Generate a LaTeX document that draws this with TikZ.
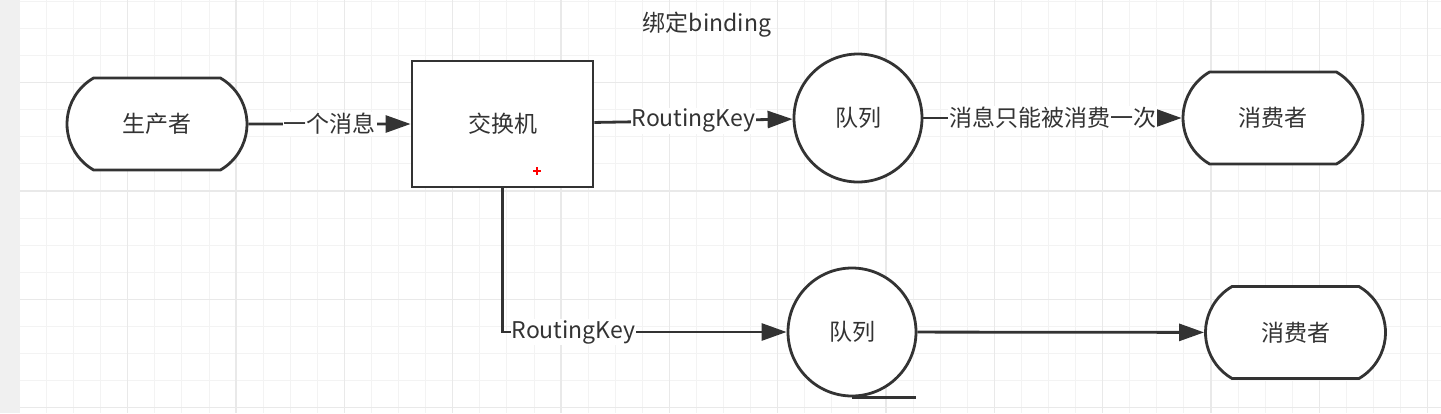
\documentclass[tikz,border=0pt]{standalone}
\usepackage{fontspec}
\setmainfont{Noto Sans CJK SC}
\usetikzlibrary{arrows.meta,shapes.misc}
\definecolor{ink}{HTML}{333333}
\definecolor{gridminor}{HTML}{F3F3F3}
\definecolor{gridmajor}{HTML}{E9E9E9}
\definecolor{sidebar}{HTML}{F0F0F0}

\begin{document}
\begin{tikzpicture}[x=1pt,y=-1pt,color=ink,line width=2.8pt,
  >={Triangle[length=25pt,width=17pt]}]
\tikzstyle{every node}=[font=\fontsize{23}{28}\selectfont, inner sep=1pt]
\tikzstyle{term}=[draw, fill=white, rounded rectangle, rounded rectangle arc length=120,
  minimum width=182pt, minimum height=92pt]
\tikzstyle{queue}=[draw, fill=white, circle, minimum size=128pt]
\tikzstyle{box}=[draw, fill=white, rectangle, minimum width=181pt, minimum height=126pt]
\tikzstyle{lbl}=[fill=white, inner sep=1pt]
\useasboundingbox (0,0) rectangle (1441,413);
% background grid
\fill[white] (0,0) rectangle (1441,413);
\foreach \i in {0,...,52}
  \draw[gridminor, line width=1pt] ({19.5+27.08*\i},0) -- ({19.5+27.08*\i},413);
\foreach \j in {0,...,15}
  \draw[gridminor, line width=1pt] (19.5,{1.5+27.08*\j}) -- (1441,{1.5+27.08*\j});
\foreach \i in {0,4,...,52}
  \draw[gridmajor, line width=1.3pt] ({19.5+27.08*\i},0) -- ({19.5+27.08*\i},413);
\foreach \j in {3,7,11,15}
  \draw[gridmajor, line width=1.3pt] (19.5,{1.5+27.08*\j}) -- (1441,{1.5+27.08*\j});
\fill[sidebar] (0,0) rectangle (19.5,413);
% nodes
\draw (157,124) node (prod) [term] {生产者};
\draw (502.5,124) node (exch) [box] {交换机};
\draw (858,118) node (q1) [queue] {队列};
\draw (1273,118) node (cons1) [term] {消费者};
\draw (852,332) node (q2) [queue] {队列};
\draw (1295.5,332.5) node (cons2) [term] {消费者};
\draw (707,25) node (bind) {绑定binding};
\draw[line width=3.8pt] (q2.south) -- ++(64,0);
\draw[red, line width=1.2pt] (533,171) -- (541,171) (537,167) -- (537,175);
% edges
\draw[->] (prod) -- node[lbl] {一个消息} (exch);
\draw[->] (exch) -- node[lbl] {RoutingKey} (q1);
\draw[->] (q1) -- node[lbl] {消息只能被消费一次} (cons1);
\draw[->] (exch) |- node[lbl, pos=0.625] {RoutingKey} (q2);
\draw[->] (q2) -- (cons2);
\end{tikzpicture}
\end{document}
